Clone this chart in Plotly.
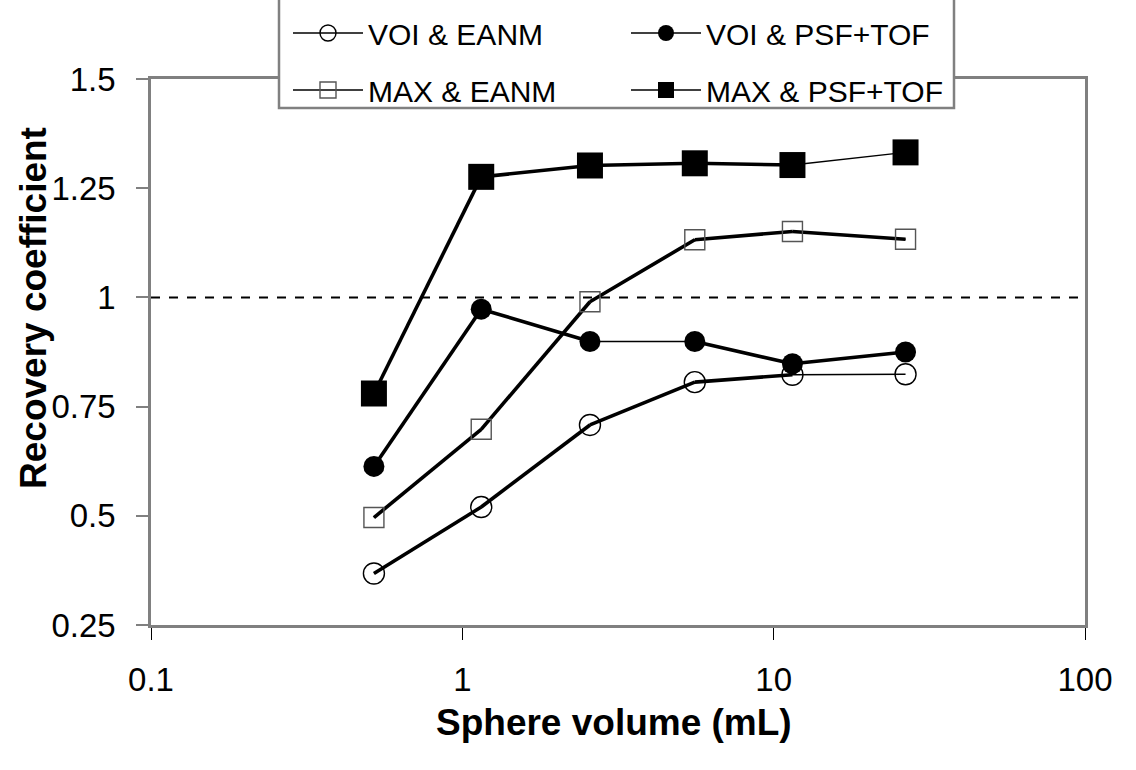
import plotly.graph_objects as go

# ---- data ----
volume_ml = [0.52, 1.15, 2.57, 5.58, 11.49, 26.52]
voi_eanm = [0.368, 0.520, 0.708, 0.806, 0.823, 0.824]
voi_psftof = [0.613, 0.973, 0.899, 0.899, 0.848, 0.875]
max_eanm = [0.496, 0.698, 0.990, 1.132, 1.151, 1.133]
max_psftof = [0.780, 1.276, 1.302, 1.307, 1.303, 1.332]

series_names = ["VOI & EANM", "VOI & PSF+TOF", "MAX & EANM", "MAX & PSF+TOF"]
x_tick_vals = [0.1, 1, 10, 100]
x_tick_text = ["0.1", "1", "10", "100"]
y_tick_vals = [0.25, 0.5, 0.75, 1.0, 1.25, 1.5]
y_tick_text = ["0.25", "0.5", "0.75", "1", "1.25", "1.5"]

# ---- style ----
W, H = 1136, 770
ML, MR, MT, MB = 151, 51, 79, 145
PW, PH = W - ML - MR, H - MT - MB
FONT = "Liberation Sans, Arial, sans-serif"
GRAY = "#808080"
THICK, THIN = 3.6, 1.4

def px_x(p):
    return (p - ML) / PW

def px_y(p):
    return (H - MB - p) / PH

styles = [
    dict(marker=dict(symbol="circle-open", size=21, color="black", line=dict(width=1.4, color="black")),
         seg=[THICK, THICK, THICK, THICK, THIN], legend="legend"),
    dict(marker=dict(symbol="circle", size=21, color="black", line=dict(width=0)),
         seg=[THICK, THICK, THIN, THICK, THICK], legend="legend"),
    dict(marker=dict(symbol="square-open", size=20, color="#555555", line=dict(width=1.4, color="#555555")),
         seg=[THICK, THICK, THICK, THICK, THICK], legend="legend2"),
    dict(marker=dict(symbol="square", size=26, color="black", line=dict(width=0)),
         seg=[THICK, THICK, THICK, THICK, THIN], legend="legend2"),
]
all_series = [voi_eanm, voi_psftof, max_eanm, max_psftof]

fig = go.Figure()

# thick segments (no legend)
for ys, st in zip(all_series, styles):
    for i, w in enumerate(st["seg"]):
        if w == THICK:
            fig.add_trace(go.Scatter(
                x=volume_ml[i:i + 2], y=ys[i:i + 2], mode="lines",
                line=dict(color="black", width=THICK), showlegend=False, hoverinfo="skip"))

# main traces (thin line + markers, in legend)
for name, ys, st in zip(series_names, all_series, styles):
    fig.add_trace(go.Scatter(
        x=volume_ml, y=ys, name=name, mode="lines+markers",
        line=dict(color="black", width=THIN), marker=st["marker"], legend=st["legend"]))

# reference line at 1
fig.add_shape(type="line", xref="paper", yref="y", x0=0, x1=1, y0=1, y1=1,
              line=dict(color="black", width=2, dash="dash"))

# legend box
fig.add_shape(type="rect", xref="paper", yref="paper",
              x0=px_x(279), x1=px_x(954), y0=px_y(108), y1=px_y(-5),
              fillcolor="white", line=dict(color=GRAY, width=2.5), layer="above")

legend_common = dict(orientation="h", bgcolor="rgba(0,0,0,0)", borderwidth=0,
                     font=dict(family=FONT, size=30, color="black"),
                     entrywidth=253, entrywidthmode="pixels", itemwidth=70,
                     xanchor="left", yanchor="middle", itemclick=False)

fig.update_layout(
    width=W, height=H,
    margin=dict(l=ML, r=MR, t=MT, b=MB, autoexpand=False),
    paper_bgcolor="white", plot_bgcolor="white",
    font=dict(family=FONT, color="black"),
    legend=dict(x=px_x(288), y=px_y(33), **legend_common),
    legend2=dict(x=px_x(288), y=px_y(90), **legend_common),
    xaxis=dict(type="log", range=[-1, 2], tickvals=x_tick_vals, ticktext=x_tick_text,
               ticks="outside", ticklen=12, tickcolor="black", tickwidth=1,
               showline=True, linecolor=GRAY, linewidth=2.5, mirror=True,
               showgrid=False, zeroline=False, ticklabelstandoff=12,
               tickfont=dict(family=FONT, size=33, color="black")),
    yaxis=dict(range=[0.25, 1.5], tickvals=y_tick_vals, ticktext=y_tick_text,
               ticks="outside", ticklen=12, tickcolor=GRAY, tickwidth=1.5,
               showline=True, linecolor=GRAY, linewidth=2.5, mirror=True,
               showgrid=False, zeroline=False, ticklabelstandoff=14,
               tickfont=dict(family=FONT, size=33, color="black")),
    annotations=[
        dict(text="<b>Recovery coefficient</b>", xref="paper", yref="paper",
             x=px_x(33), y=px_y(308), textangle=-90, showarrow=False,
             xanchor="center", yanchor="middle",
             font=dict(family=FONT, size=37, color="black")),
        dict(text="<b>Sphere volume (mL)</b>", xref="paper", yref="paper",
             x=px_x(614), y=px_y(722), showarrow=False,
             xanchor="center", yanchor="middle",
             font=dict(family=FONT, size=37, color="black")),
    ],
)

fig.write_html("out.html")
